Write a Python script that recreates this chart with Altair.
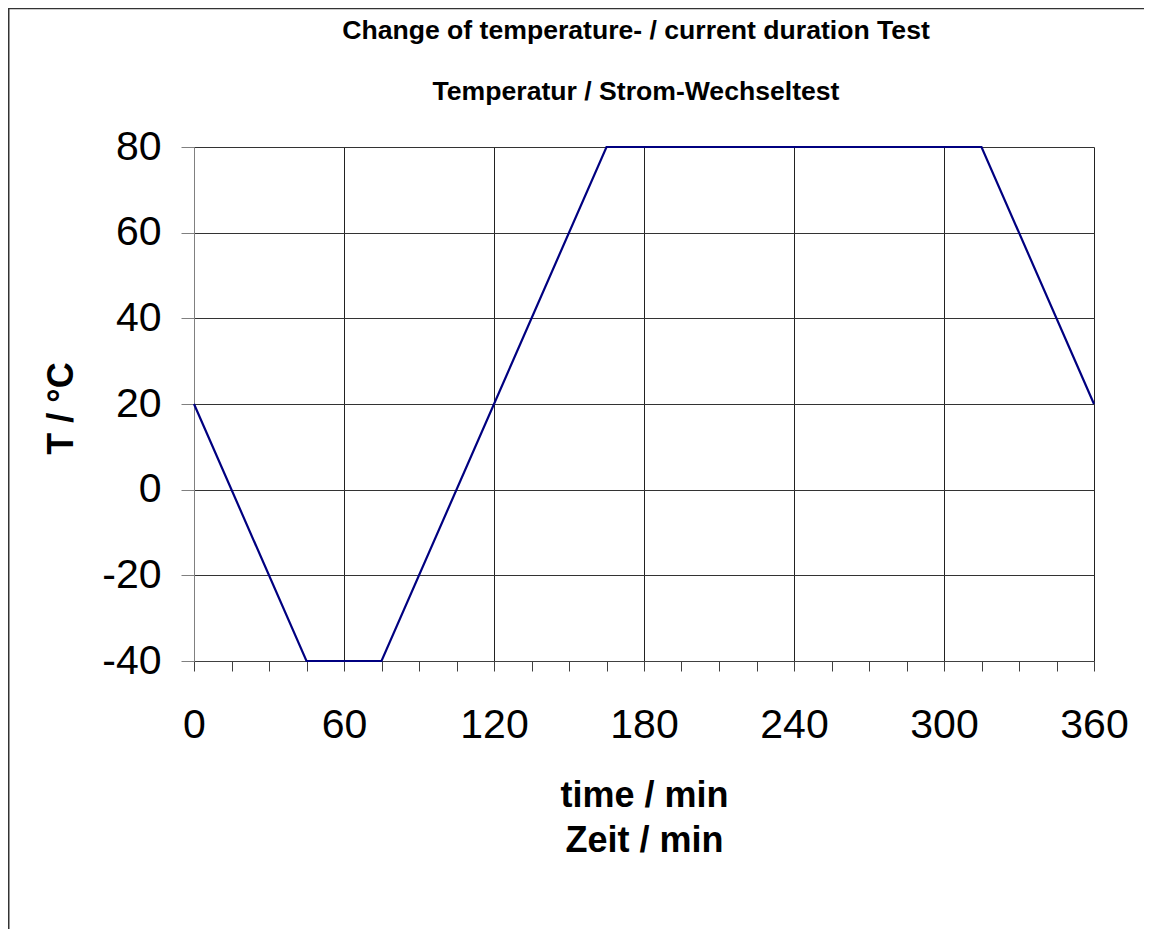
import altair as alt
import pandas as pd

# ---- data ----
time_min = [0, 45, 75, 165, 315, 360]
temp_c = [20, -40, -40, 80, 80, 20]
x_tick_values = list(range(0, 361, 15))
y_tick_values = [-40, -20, 0, 20, 40, 60, 80]
title_lines = ["Change of temperature- / current duration Test",
               "Temperatur / Strom-Wechseltest"]
x_title = ["time / min", "Zeit / min"]
y_title = "T / °C"

FONT = "Liberation Sans"
W, H = 900, 514

df = pd.DataFrame({"t": time_min, "T": temp_c})

line = alt.Chart(df).mark_line(color="#000080", strokeWidth=2.2).encode(
    x=alt.X(
        "t:Q",
        scale=alt.Scale(domain=[0, 360], nice=False, zero=False),
        axis=alt.Axis(
            values=x_tick_values,
            title=x_title,
            labelExpr="datum.value % 60 === 0 ? '' + datum.value : ''",
            labelOverlap=False, labelFlush=False, labelBound=False,
            labelFont=FONT, labelFontSize=41, labelColor="#000",
            labelBaseline="alphabetic", labelPadding=66,
            tickSize=10, tickColor="#404040", tickWidth=1,
            domainColor="#404040", domainWidth=1,
            grid=True, gridColor="#222", gridWidth=1,
            gridOpacity={"condition": {"test": "datum.value % 60 === 0", "value": 1}, "value": 0},
            titleFont=FONT, titleFontSize=36, titleFontWeight="bold", titleColor="#000",
            titleBaseline="alphabetic", titleLineHeight=45,
            titleX=W / 2, titleY=145, titleAlign="center",
        ),
    ),
    y=alt.Y(
        "T:Q",
        scale=alt.Scale(domain=[-40, 80], nice=False, zero=False),
        axis=alt.Axis(
            values=y_tick_values,
            title=y_title,
            labelExpr="'' + datum.value",
            labelOverlap=False, labelFlush=False, labelBound=False,
            labelFont=FONT, labelFontSize=41, labelColor="#000",
            labelPadding=20,
            tickSize=13, tickColor="#808080", tickWidth=1,
            domainColor="#808080", domainWidth=1,
            grid=True, gridColor="#333", gridWidth=1,
            titleFont=FONT, titleFontSize=36, titleFontWeight="bold", titleColor="#000",
            titleAngle=270, titleBaseline="alphabetic", titleAlign="center",
            titleX=-122, titleY=261,
        ),
    ),
)

one = alt.Data(values=[{}])

title1 = alt.Chart(one).mark_text(
    text=title_lines[0], font=FONT, fontSize=26.6, fontWeight="bold",
    align="center", baseline="alphabetic", color="#000",
).encode(x=alt.value(442), y=alt.value(-108))

title2 = alt.Chart(one).mark_text(
    text=title_lines[1], font=FONT, fontSize=26.6, fontWeight="bold",
    align="center", baseline="alphabetic", color="#000",
).encode(x=alt.value(442), y=alt.value(-47))

border_left = alt.Chart(one).mark_rule(color="#333", strokeWidth=2).encode(
    x=alt.value(-185.5), y=alt.value(-139), y2=alt.value(782)
)
border_top = alt.Chart(one).mark_rule(color="#333", strokeWidth=1.5).encode(
    y=alt.value(-138.5), x=alt.value(-186), x2=alt.value(950)
)

chart = alt.layer(line, title1, title2, border_left, border_top).properties(
    width=W, height=H,
    autosize=alt.AutoSizeParams(type="none"),
    padding={"left": 186, "top": 139, "right": 50, "bottom": 268},
    background="#ffffff",
).configure_view(stroke=None)

chart.save("out.html", embed_options={"renderer": "svg", "actions": False})
